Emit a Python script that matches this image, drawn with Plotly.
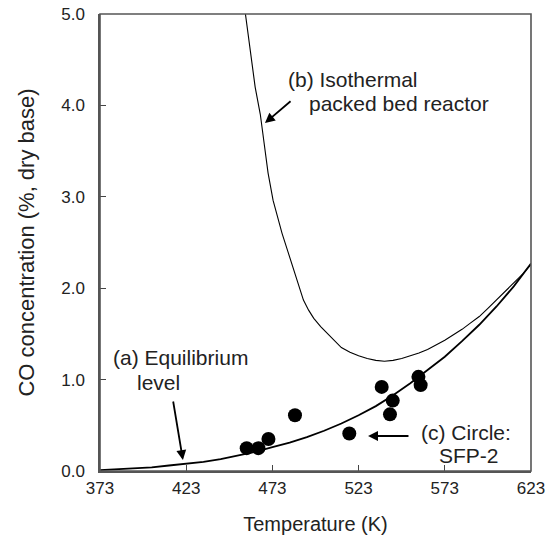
import plotly.graph_objects as go

# (a) Equilibrium level
eq_T = [373, 383, 393, 403, 413, 423, 433, 443, 453, 463, 473, 483, 493, 503,
        513, 523, 533, 543, 553, 563, 573, 583, 593, 603, 613, 623]
eq_CO = [0.01, 0.02, 0.03, 0.04, 0.06, 0.08, 0.10, 0.13, 0.17, 0.21, 0.26, 0.31,
         0.37, 0.44, 0.52, 0.61, 0.71, 0.83, 0.96, 1.10, 1.25, 1.42, 1.60, 1.80,
         2.02, 2.27]

# (b) Isothermal packed bed reactor
iso_T = [457.0, 460, 463, 466, 468, 470.5, 473.4, 476, 478.6, 482, 485, 488, 491,
         494, 497, 501, 505, 509, 513, 518, 523, 528, 533, 538, 543, 548, 553,
         558, 563, 568, 573, 578, 583, 588, 593, 598, 603, 608, 613, 618, 623]
iso_CO = [5.05, 4.60, 4.20, 3.90, 3.60, 3.26, 2.96, 2.78, 2.60, 2.40, 2.23, 2.05,
          1.87, 1.76, 1.67, 1.58, 1.50, 1.42, 1.35, 1.30, 1.26, 1.23, 1.21, 1.20,
          1.21, 1.23, 1.26, 1.29, 1.33, 1.38, 1.43, 1.49, 1.55, 1.62, 1.69, 1.78,
          1.87, 1.96, 2.05, 2.15, 2.26]

# (c) Circle: SFP-2
sfp_T = [458.1, 464.9, 470.7, 486.1, 517.6, 536.4, 542.8, 541.2, 557.7, 559.0]
sfp_CO = [0.25, 0.25, 0.35, 0.61, 0.41, 0.92, 0.77, 0.62, 1.03, 0.94]

x_ticks = [373, 423, 473, 523, 573, 623]
y_ticks = [0.0, 1.0, 2.0, 3.0, 4.0, 5.0]

FONT = "Liberation Sans, Arial, sans-serif"
TXT = "#222222"

fig = go.Figure()
fig.add_trace(go.Scatter(x=eq_T, y=eq_CO, mode="lines",
                         line=dict(color="black", width=1.8), cliponaxis=False))
fig.add_trace(go.Scatter(x=iso_T, y=iso_CO, mode="lines",
                         line=dict(color="black", width=1.1)))
fig.add_trace(go.Scatter(x=sfp_T, y=sfp_CO, mode="markers",
                         marker=dict(color="black", size=14, symbol="circle")))

anns = []
# arrows
for (hx, hy, tx, ty) in [(468.7, 3.807, 484.4, 4.059),
                         (421.1, 0.120, 415.3, 0.777),
                         (528.5, 0.383, 552.8, 0.383)]:
    anns.append(dict(x=hx, y=hy, ax=tx, ay=ty, xref="x", yref="y", axref="x", ayref="y",
                     text="", showarrow=True, arrowhead=2, arrowsize=1.1,
                     arrowwidth=1.8, arrowcolor="black"))
# texts
for (tx, ty, s) in [(480.9, 4.278, "(b) Isothermal"),
                    (493.1, 4.026, "packed bed reactor"),
                    (379.4, 1.247, "(a) Equilibrium"),
                    (393.3, 0.963, "level"),
                    (558.0, 0.416, "(c) Circle:"),
                    (568.5, 0.175, "SFP-2")]:
    anns.append(dict(x=tx, y=ty, xref="x", yref="y", text=s, showarrow=False,
                     xanchor="left", yanchor="middle",
                     font=dict(family=FONT, size=21, color=TXT)))

fig.update_layout(
    width=559, height=539,
    margin=dict(l=92, r=36, t=6, b=76, autoexpand=False),
    paper_bgcolor="white", plot_bgcolor="white",
    showlegend=False,
    font=dict(family=FONT, color=TXT, size=17),
    annotations=anns,
    shapes=[dict(type="rect", xref="paper", yref="paper", x0=0, x1=1, y0=0, y1=1,
                 line=dict(color="#555", width=1.6), layer="above")],
)
fig.update_xaxes(range=[373, 623], tickvals=x_ticks, ticktext=[str(v) for v in x_ticks],
                 ticks="inside", ticklen=6, tickcolor="#444", tickwidth=1.2,
                 showline=True, linecolor="#555", linewidth=1.5, mirror=False,
                 showgrid=False, zeroline=False, automargin=False,
                 ticklabelstandoff=1, ticklabeloverflow="allow",
                 tickfont=dict(size=17, color=TXT),
                 title=dict(text="Temperature (K)", font=dict(size=20, color=TXT), standoff=20))
fig.update_yaxes(range=[0, 5], tickvals=y_ticks, ticktext=[f"{v:.1f}" for v in y_ticks],
                 ticks="inside", ticklen=6, tickcolor="#444", tickwidth=1.2,
                 showline=True, linecolor="#555", linewidth=1.5, mirror=False,
                 showgrid=False, zeroline=False, automargin=False,
                 ticklabelstandoff=10, ticklabeloverflow="allow",
                 tickfont=dict(size=17, color=TXT),
                 title=dict(text="CO concentration (%, dry base)", font=dict(size=22, color=TXT),
                            standoff=21))

fig.write_html("out.html")
